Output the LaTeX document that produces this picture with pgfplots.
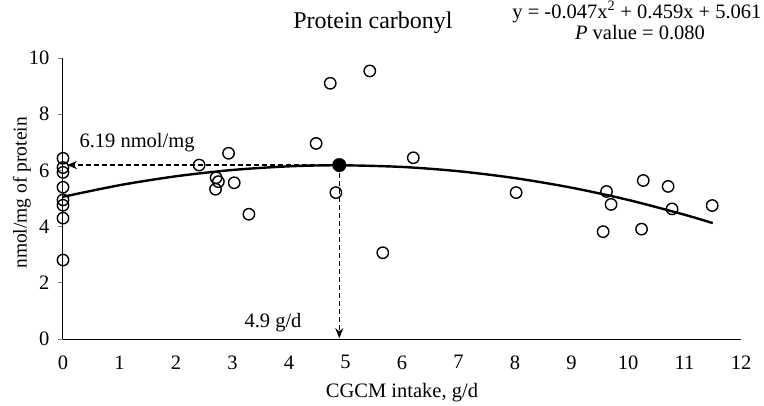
\documentclass[border=0pt]{standalone}
\usepackage{pgfplots}
\pgfplotsset{compat=1.18}
\usepackage{fontspec}
\setmainfont{Liberation Serif}
\usetikzlibrary{arrows.meta}
\begin{document}
\begin{tikzpicture}
\begin{axis}[
  at={(0,0)}, anchor=south west,
  scale only axis, width=678pt, height=281pt,
  xmin=0, xmax=12, ymin=0, ymax=10,
  axis x line=bottom, axis y line=left,
  axis line style={-, line width=1pt},
  xtick={0,1,...,12}, ytick={0,2,...,10},
  xtick style={draw=none},
  ytick style={line width=0.9pt},
  tick align=outside, major tick length=5pt,
  ticklabel style={font=\fontsize{20.5}{23}\selectfont},
  /pgf/number format/assume math mode=true,
  xticklabel style={yshift=-8pt},
  yticklabel style={xshift=-5pt},
  xlabel={CGCM intake, g/d},
  ylabel={nmol/mg of protein},
  xlabel style={font=\fontsize{20.5}{23}\selectfont, at={(axis description cs:0.5,-0.192)}, anchor=center},
  ylabel style={font=\fontsize{19.5}{22}\selectfont, at={(axis description cs:-0.0605,0.52)}, anchor=center},
  clip=false,
]
% fitted quadratic curve
\addplot[black, line width=2.4pt, smooth] coordinates {
(0,5.061) (1,5.473) (2,5.791) (3,6.015) (4,6.145) (4.9,6.182) (6,6.123) (7,5.971) (8,5.725) (9,5.385) (10,4.951) (11,4.423) (11.5,4.124)};
% dashed guide lines
\addplot[black, dash pattern=on 5pt off 3pt, line width=1.5pt, -{Stealth[length=10pt,width=8pt]}] coordinates {(4.89,6.19) (0.07,6.19)};
\addplot[black, dash pattern=on 5pt off 3pt, line width=1.5pt, -{Stealth[length=10pt,width=8pt]}] coordinates {(4.89,6.19) (4.89,0.03)};
% observations
\addplot[only marks, mark=o, mark size=5.7pt, mark options={line width=1.4pt, black}] coordinates {
(0,6.43) (0,6.10) (0,5.93) (0,5.40) (0,4.95) (0,4.76) (0,4.30) (0,2.81)
(2.41,6.19) (2.93,6.61) (2.71,5.74) (2.75,5.60) (2.70,5.33) (3.03,5.56) (3.29,4.44)
(5.43,9.54) (4.73,9.10) (4.48,6.96) (6.20,6.45) (4.83,5.21) (5.66,3.07)
(8.02,5.21) (9.62,5.25) (9.70,4.79) (9.56,3.82) (10.27,5.64) (10.24,3.91)
(10.71,5.43) (10.78,4.63) (11.49,4.75)};
% maximum point
\addplot[only marks, mark=*, mark size=6.8pt, black] coordinates {(4.89,6.19)};
\end{axis}
\node[anchor=west, font=\fontsize{20.5}{23}\selectfont] at (13pt,196pt) {6.19 nmol/mg};
\node[anchor=west, font=\fontsize{20.5}{23}\selectfont] at (178pt,16pt) {4.9 g/d};
\node[font=\fontsize{24}{27}\selectfont] at (310pt,316pt) {Protein carbonyl};
\node[anchor=east, font=\fontsize{20.5}{23}\selectfont] at (702pt,327pt) {y = -0.047x\textsuperscript{2} + 0.459x + 5.061};
\node[font=\fontsize{20.5}{23}\selectfont] at (577pt,306pt) {\textit{P} value = 0.080};
\pgfresetboundingbox
\path[use as bounding box] (-63pt,-66pt) rectangle (701pt,339pt);
\end{tikzpicture}
\end{document}
